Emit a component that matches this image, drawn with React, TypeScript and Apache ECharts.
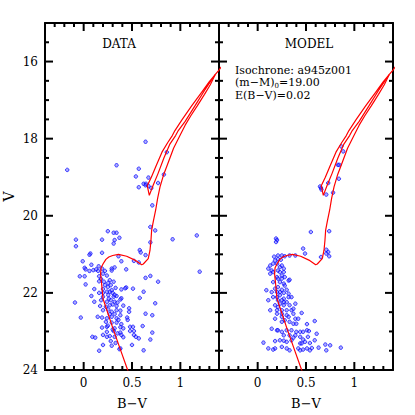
import React, { useEffect, useRef } from "react";
import * as echarts from "echarts";

// ---- tick values ----
const xMajorTicks = [0, 0.5, 1];
const xMinorTicks = [-0.3, -0.2, -0.1, 0.1, 0.2, 0.3, 0.4, 0.6, 0.7, 0.8, 0.9, 1.1, 1.2, 1.3];
const yMajorTicks = [16, 18, 20, 22, 24];
const yMinorTicks = [15.5, 16.5, 17, 17.5, 18.5, 19, 19.5, 20.5, 21, 21.5, 22.5, 23, 23.5];

// ---- isochrone (B-V, V) ----
const isoMain: [number, number][] = [
  [0.48, 24.15], [0.455, 24.0], [0.37, 23.4], [0.3, 22.9], [0.24, 22.45], [0.2, 22.15],
  [0.185, 21.75], [0.175, 21.5], [0.18, 21.35], [0.2, 21.25], [0.23, 21.13], [0.26, 21.07],
  [0.3, 21.03], [0.36, 21.0], [0.445, 21.05], [0.53, 21.15], [0.6, 21.27], [0.617, 21.25],
  [0.668, 21.11], [0.686, 20.9], [0.696, 20.64], [0.703, 20.38], [0.72, 20.15], [0.745, 19.85],
  [0.765, 19.55], [0.79, 19.25], [0.825, 18.95], [0.87, 18.65], [0.93, 18.25], [0.996, 17.92],
  [1.05, 17.65], [1.11, 17.4], [1.175, 17.15], [1.25, 16.85], [1.31, 16.6], [1.36, 16.34],
  [1.4, 16.22], [1.44, 16.08],
];
const isoHB: [number, number][] = [
  [1.36, 16.34], [1.3, 16.52], [1.22, 16.8], [1.117, 17.15], [1.02, 17.5], [0.944, 17.79],
  [0.917, 17.92], [0.87, 18.1], [0.81, 18.35], [0.75, 18.7], [0.7, 19.0], [0.658, 19.22],
  [0.679, 19.47], [0.72, 19.2], [0.77, 18.9], [0.83, 18.5], [0.89, 18.15], [0.951, 17.92],
  [0.979, 17.79], [1.05, 17.55], [1.151, 17.15], [1.25, 16.75], [1.33, 16.45], [1.36, 16.34],
];

// ---- observed stars (B-V, V) ----
const dataStars: [number, number][] = [
  [-0.17, 18.81], [0.34, 18.69], [0.64, 18.08], [0.57, 18.78], [0.54, 18.98], [0.67, 19.01], [0.62, 19.17],
  [0.645, 19.17], [0.64, 19.21], [0.67, 19.23], [0.57, 19.26], [0.7, 19.28], [0.86, 18.35], [0.83, 18.93], [0.77, 19.15],
  [0.71, 19.73], [0.69, 20.29], [0.74, 20.38], [0.69, 20.69], [0.25, 20.4], [0.31, 20.44], [0.34, 20.44], [0.37, 20.57],
  [0.32, 20.63], [0.19, 20.62], [0.31, 20.72], [-0.08, 20.62], [-0.08, 20.79], [0.92, 20.61], [1.17, 20.51], [1.2, 21.45],
  [0.58, 20.89], [0.59, 20.95], [0.64, 21.02], [0.07, 20.98], [0.06, 21.01], [0.19, 20.96], [0.36, 21.05], [0.39, 21.18],
  [0.52, 21.17], [0.57, 21.21], [-0.01, 21.18], [0.08, 21.27], [0.155, 21.31], [0.01, 21.35], [0.02, 21.39], [0.06, 21.43],
  [0.1, 21.41], [0.13, 21.39], [0.15, 21.43], [0.19, 21.37], [0.22, 21.43], [0.29, 21.37], [0.29, 21.42], [0.32, 21.34],
  [0.44, 21.39], [-0.04, 21.57], [0.01, 21.57], [0.16, 21.57], [0.18, 21.64], [0.64, 21.61], [0.69, 21.56], [0.77, 21.71],
  [0.02, 21.78], [0.21, 21.71], [0.255, 21.74], [0.27, 21.67], [0.31, 21.71], [0.44, 21.86], [0.43, 21.88], [0.33, 21.87],
  [0.39, 21.91], [0.11, 21.9], [0.16, 22.0], [0.2, 22.0], [0.24, 21.97], [0.27, 21.97], [0.29, 21.93], [0.51, 21.89],
  [0.62, 21.97], [0.08, 22.08], [0.2, 22.1], [0.255, 22.06], [0.31, 22.1], [0.34, 22.08], [0.39, 22.14], [0.58, 22.13],
  [-0.09, 22.25], [0.11, 22.23], [0.18, 22.19], [0.24, 22.23], [0.28, 22.19], [0.32, 22.23], [0.38, 22.17], [0.17, 22.34],
  [0.23, 22.36], [0.27, 22.32], [0.34, 22.34], [0.41, 22.33], [0.74, 22.27], [0.2, 22.45], [0.255, 22.43], [0.29, 22.49],
  [0.34, 22.45], [0.38, 22.46], [0.47, 22.4], [0.47, 22.49], [-0.03, 22.64], [0.145, 22.62], [0.19, 22.64], [0.24, 22.66],
  [0.29, 22.62], [0.34, 22.66], [0.38, 22.58], [0.45, 22.64], [0.64, 22.54], [0.71, 22.58], [0.23, 22.75], [0.29, 22.77],
  [0.34, 22.77], [0.39, 22.81], [0.455, 22.7], [0.19, 22.9], [0.24, 22.88], [0.32, 22.92], [0.38, 22.89], [0.41, 22.92],
  [0.48, 22.88], [0.51, 22.88], [0.61, 22.86], [0.24, 23.01], [0.31, 22.99], [0.38, 23.03], [0.48, 22.99], [0.52, 22.99],
  [0.71, 23.03], [0.09, 23.14], [0.12, 23.16], [0.2, 23.09], [0.24, 23.14], [0.27, 23.12], [0.32, 23.14], [0.39, 23.09],
  [0.41, 23.15], [0.52, 23.09], [0.54, 23.14], [0.57, 23.18], [0.69, 23.21], [0.2, 23.35], [0.29, 23.37], [0.38, 23.44],
  [0.5, 23.35], [0.16, 23.5], [0.37, 23.46], [0.62, 23.49],
  [0.22, 21.8], [0.25, 21.85], [0.28, 21.8], [0.3, 22.0], [0.32, 22.05], [0.26, 22.15], [0.3, 22.3], [0.35, 22.25],
  [0.27, 22.55], [0.32, 22.55], [0.36, 22.7], [0.25, 22.85], [0.3, 22.95], [0.35, 23.05], [0.28, 23.25], [0.33, 23.3],
  [0.2, 21.5], [0.24, 21.55], [0.16, 21.7], [0.2, 21.9],
];

// ---- synthetic (model) stars (B-V, V) ----
const modelStars: [number, number][] = [
  [0.645, 19.24], [0.655, 19.28], [0.66, 19.32], [0.73, 19.15], [0.71, 19.45], [0.78, 19.4], [0.84, 19.04], [0.83, 18.68],
  [0.845, 18.68], [0.885, 18.33], [0.865, 18.2],
  [0.55, 20.42], [0.74, 20.4], [0.47, 20.85], [0.49, 20.98], [0.19, 20.59], [0.2, 20.63], [0.19, 20.68], [0.71, 20.88],
  [0.73, 20.94], [0.74, 21.05], [0.71, 20.98], [0.655, 21.07],
  [0.17, 21.06], [0.21, 21.03], [0.25, 21.03], [0.28, 21.05], [0.33, 21.03], [0.39, 21.03],
  [0.18, 21.16], [0.21, 21.12], [0.24, 21.14],
  [0.13, 21.29], [0.16, 21.24], [0.2, 21.24], [0.23, 21.33], [0.25, 21.29], [0.27, 21.37],
  [0.11, 21.37], [0.145, 21.42], [0.13, 21.5], [0.16, 21.46],
  [0.21, 21.42], [0.23, 21.46], [0.25, 21.55], [0.27, 21.46],
  [0.2, 21.59], [0.21, 21.63], [0.25, 21.63], [0.28, 21.59], [0.32, 21.68], [0.33, 21.66],
  [0.16, 21.72], [0.23, 21.72], [0.27, 21.76], [0.28, 21.81],
  [0.21, 21.85], [0.18, 21.89], [0.25, 21.92], [0.3, 21.92], [0.32, 22.02],
  [0.09, 21.93], [0.145, 21.98], [0.2, 21.98], [0.23, 21.98], [0.27, 22.0],
  [0.16, 22.11], [0.2, 22.11], [0.23, 22.06], [0.27, 22.15], [0.32, 22.11], [0.35, 22.11],
  [0.11, 22.19], [0.21, 22.19], [0.25, 22.19], [0.27, 22.24], [0.3, 22.24], [0.23, 22.28],
  [0.18, 22.32], [0.21, 22.37], [0.27, 22.32], [0.33, 22.32], [0.39, 22.28],
  [0.13, 22.45], [0.2, 22.45], [0.25, 22.45], [0.3, 22.45], [0.35, 22.45], [0.37, 22.41],
  [0.2, 22.54], [0.25, 22.54], [0.3, 22.58], [0.37, 22.54], [0.455, 22.52],
  [0.18, 22.67], [0.25, 22.62], [0.32, 22.62], [0.39, 22.67], [0.42, 22.67],
  [0.28, 22.71], [0.25, 22.75], [0.33, 22.75], [0.37, 22.8], [0.4, 22.8], [0.51, 22.81], [0.59, 22.73],
  [0.145, 22.93], [0.2, 22.97], [0.21, 22.97], [0.25, 23.01], [0.3, 22.97], [0.35, 22.97], [0.4, 23.01], [0.44, 23.01],
  [0.47, 23.01], [0.51, 22.97], [0.53, 22.99], [0.61, 23.06],
  [0.27, 23.1], [0.33, 23.1], [0.37, 23.16], [0.39, 23.1], [0.44, 23.14], [0.47, 23.21], [0.52, 23.14],
  [0.06, 23.29], [0.18, 23.25], [0.23, 23.23], [0.27, 23.24], [0.3, 23.27], [0.35, 23.23], [0.44, 23.31], [0.455, 23.31],
  [0.49, 23.27], [0.54, 23.3], [0.59, 23.23], [0.7, 23.34], [0.75, 23.36],
  [0.11, 23.44], [0.18, 23.44], [0.16, 23.47], [0.25, 23.4], [0.3, 23.44], [0.33, 23.49], [0.42, 23.44], [0.44, 23.49],
  [0.47, 23.47], [0.51, 23.44], [0.54, 23.49], [0.56, 23.43], [0.63, 23.42], [0.71, 23.49], [0.86, 23.42],
];

const panelTitles = ["DATA", "MODEL"];
const FONT = "DejaVu Serif";
const AXIS_COLOR = "#000";
const X_MIN = -0.4, X_MAX = 1.4, Y_MIN = 15, Y_MAX = 24;
const GRID_W = 174, GRID_H = 347, GRID_TOP = 23, GRID_LEFT = 45;
const MAJOR_LEN = 8, MINOR_LEN = 4;

function xAxesFor(g: number) {
  const base = { type: "value", gridIndex: g, min: X_MIN, max: X_MAX, splitLine: { show: false }, axisTick: { show: false } };
  const line = { show: true, onZero: false, lineStyle: { color: AXIS_COLOR, width: 2 } };
  return [
    {
      ...base, position: "bottom", axisLine: line,
      axisLabel: { show: true, customValues: xMajorTicks, margin: 7, fontFamily: FONT, fontSize: 12, color: "#000" },
      name: "B\u2212V", nameLocation: "middle", nameGap: 27,
      nameTextStyle: { fontFamily: FONT, fontSize: 13, color: "#000" },
    },
    { ...base, position: "top", axisLine: line, axisLabel: { show: false } },
  ];
}

function yAxesFor(g: number) {
  const base = { type: "value", gridIndex: g, min: Y_MIN, max: Y_MAX, inverse: true, splitLine: { show: false }, axisTick: { show: false } };
  const line = { show: true, onZero: false, lineStyle: { color: AXIS_COLOR, width: 2 } };
  const left: any = {
    ...base, position: "left", axisLine: line,
    axisLabel: g === 0
      ? { show: true, customValues: yMajorTicks, margin: 7, fontFamily: FONT, fontSize: 12, color: "#000" }
      : { show: false },
  };
  if (g === 0) {
    left.name = "V";
    left.nameLocation = "middle";
    left.nameGap = 29;
    left.nameRotate = 90;
    left.nameTextStyle = { fontFamily: FONT, fontSize: 14, color: "#000" };
  }
  return [left, { ...base, position: "right", axisLine: line, axisLabel: { show: false } }];
}

function seriesFor(g: number, stars: [number, number][]) {
  const xi = g * 2;
  const yi = g * 2;
  const lineStyle = { color: "#ff0000", width: 1.2 };
  return [
    {
      type: "scatter", xAxisIndex: xi, yAxisIndex: yi, data: stars, symbol: "circle", symbolSize: 3.5,
      itemStyle: { color: "rgba(70,70,255,0.55)", borderColor: "#0000ff", borderWidth: 0.9 }, z: 3,
    },
    {
      type: "line", xAxisIndex: xi, yAxisIndex: yi, data: isoMain, symbol: "none", showSymbol: false,
      lineStyle, clip: true, z: 4,
    },
    {
      type: "line", xAxisIndex: xi, yAxisIndex: yi, data: isoHB, symbol: "none", showSymbol: false,
      lineStyle, clip: true, z: 4,
    },
  ];
}

const textGraphics = [
  {
    type: "text", x: 119, y: 44,
    style: { text: panelTitles[0], font: `12px "${FONT}"`, fill: "#000", textAlign: "center", textVerticalAlign: "middle" },
  },
  {
    type: "text", x: 309, y: 44,
    style: { text: panelTitles[1], font: `12px "${FONT}"`, fill: "#000", textAlign: "center", textVerticalAlign: "middle" },
  },
  {
    type: "text", x: 235, y: 70,
    style: { text: "Isochrone: a945z001", font: `11px "${FONT}"`, fill: "#000", textAlign: "left", textVerticalAlign: "middle" },
  },
  {
    type: "text", x: 235, y: 82.5,
    style: {
      text: "{n|(m\u2212M)}{s|0}{n|=19.00}",
      textAlign: "left", textVerticalAlign: "middle",
      rich: {
        n: { fontFamily: FONT, fontSize: 11, fill: "#000", lineHeight: 14 },
        s: { fontFamily: FONT, fontSize: 7, fill: "#000", lineHeight: 14, padding: [7, 0, 0, 0] },
      },
    },
  },
  {
    type: "text", x: 235, y: 95,
    style: { text: "E(B\u2212V)=0.02", font: `11px "${FONT}"`, fill: "#000", textAlign: "left", textVerticalAlign: "middle" },
  },
];

// tick marks inside the frame, positioned through the chart's own axis scales
function tickGraphics(chart: echarts.ECharts) {
  const out: any[] = [];
  const style = { stroke: AXIS_COLOR, lineWidth: 2 };
  for (let g = 0; g < 2; g++) {
    const xi = g * 2;
    const px = (v: [number, number]) =>
      chart.convertToPixel({ xAxisIndex: xi, yAxisIndex: xi } as any, v) as number[];
    const addX = (v: number, len: number) => {
      const b = px([v, Y_MAX]);
      const t = px([v, Y_MIN]);
      out.push({ type: "line", z: 100, silent: true, shape: { x1: b[0], y1: b[1], x2: b[0], y2: b[1] - len }, style });
      out.push({ type: "line", z: 100, silent: true, shape: { x1: t[0], y1: t[1], x2: t[0], y2: t[1] + len }, style });
    };
    const addY = (v: number, len: number) => {
      const l = px([X_MIN, v]);
      const r = px([X_MAX, v]);
      out.push({ type: "line", z: 100, silent: true, shape: { x1: l[0], y1: l[1], x2: l[0] + len, y2: l[1] }, style });
      out.push({ type: "line", z: 100, silent: true, shape: { x1: r[0], y1: r[1], x2: r[0] - len, y2: r[1] }, style });
    };
    xMajorTicks.forEach((v) => addX(v, MAJOR_LEN));
    xMinorTicks.forEach((v) => addX(v, MINOR_LEN));
    yMajorTicks.forEach((v) => addY(v, MAJOR_LEN));
    yMinorTicks.forEach((v) => addY(v, MINOR_LEN));
  }
  return out;
}

export default function App() {
  const ref = useRef<HTMLDivElement>(null);
  useEffect(() => {
    if (!ref.current) return;
    const chart = echarts.init(ref.current, undefined, { renderer: "svg" });
    const option: any = {
      animation: false,
      backgroundColor: "#fff",
      grid: [
        { left: GRID_LEFT, top: GRID_TOP, width: GRID_W, height: GRID_H },
        { left: GRID_LEFT + GRID_W, top: GRID_TOP, width: GRID_W, height: GRID_H },
      ],
      xAxis: [...xAxesFor(0), ...xAxesFor(1)],
      yAxis: [...yAxesFor(0), ...yAxesFor(1)],
      series: [...seriesFor(0, dataStars), ...seriesFor(1, modelStars)],
    };
    chart.setOption(option);
    chart.setOption({ graphic: [...textGraphics, ...tickGraphics(chart)] });
    return () => chart.dispose();
  }, []);
  return (
    <div
      ref={ref}
      style={{ position: "absolute", left: 0, top: 0, width: 415, height: 415, background: "#fff" }}
    />
  );
}
